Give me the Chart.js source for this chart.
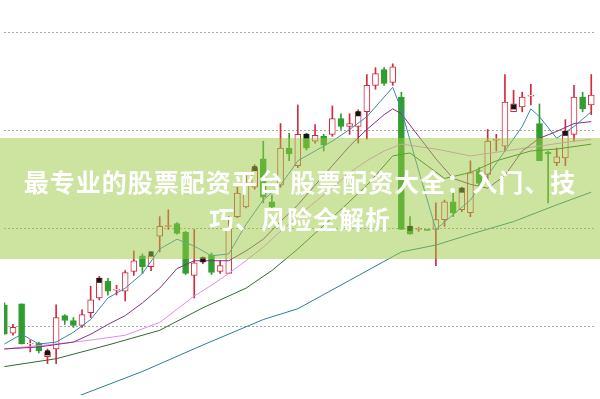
<!DOCTYPE html>
<html>
<head>
<meta charset="utf-8">
<script src="https://cdn.jsdelivr.net/npm/chart.js@4.4.1/dist/chart.umd.min.js"></script>
<style>
  html, body { margin: 0; padding: 0; background: #fff; }
  #wrap { position: relative; width: 600px; height: 399px; overflow: hidden; }
  #banner { position: absolute; left: 0; top: 138px; width: 600px; height: 121px; background: rgba(155, 202, 65, 0.5); }
  #title { position: absolute; left: 0; top: 163px; width: 600px; text-align: center; color: #fff;
    font: bold 25px/37px "Noto Sans CJK SC", sans-serif; letter-spacing: 1px; }
</style>
</head>
<body>
<div id="wrap">
  <canvas id="kChart" width="600" height="399"></canvas>
  <div id="banner"></div>
  <div id="title">最专业的股票配资平台 股票配资大全：入门、技<br>巧、风险全解析</div>
</div>
<script>
// daily candles, left to right
const opens = [10.22, 9.93, 10.23, 9.82, 9.83, 9.69, 9.77, 10.11, 10.06, 10.01, 10.14, 10.29, 10.46, 10.37, 10.36, 10.56, 10.72, 10.61,
  10.92, 11.02, 11.05, 10.96, 10.52, 10.66, 10.73, 10.56, 10.54, 11.12, 11.22, 11.42, 11.71, 11.27, 11.44, 11.82, 11.64, 11.96,
  11.89, 11.94, 11.96, 12.12, 12.04, 12.04, 12.19, 12.46, 12.62, 12.49, 12.34, 11.02, 10.99, 10.99, 10.99, 11.09, 11.27, 11.19,
  11.16, 11.59, 11.55, 11.90, 11.84, 12.19, 12.24, 12.35, 12.07, 11.78, 11.67, 11.72, 11.96, 12.34, 12.26];
const highs = [10.24, 10.02, 10.23, 9.86, 9.84, 9.77, 10.22, 10.12, 10.09, 10.17, 10.41, 10.51, 10.49, 10.42, 10.57, 10.77, 10.74, 10.76,
  11.12, 11.19, 11.06, 10.97, 10.99, 10.71, 10.75, 10.67, 11.12, 11.42, 11.54, 11.65, 11.89, 11.34, 12.07, 11.97, 12.26, 11.97,
  12.06, 11.96, 12.25, 12.17, 12.17, 12.21, 12.57, 12.64, 12.64, 12.68, 12.39, 11.12, 11.01, 10.99, 11.26, 11.29, 11.36, 11.42,
  11.69, 11.62, 12.01, 11.96, 12.57, 12.41, 12.39, 12.47, 12.27, 11.79, 11.82, 12.11, 12.46, 12.39, 12.57];
const lows = [9.92, 9.91, 9.82, 9.74, 9.73, 9.62, 9.62, 10.02, 9.99, 9.99, 10.09, 10.27, 10.32, 10.32, 10.26, 10.52, 10.54, 10.57,
  10.76, 10.99, 10.94, 10.53, 10.29, 10.64, 10.53, 10.54, 10.54, 11.11, 11.21, 11.40, 11.26, 11.19, 11.42, 11.69, 11.62, 11.80,
  11.87, 11.79, 11.94, 12.01, 11.96, 11.87, 11.91, 12.42, 12.46, 12.46, 10.99, 10.94, 10.97, 10.98, 10.62, 11.02, 11.12, 11.17,
  11.12, 11.43, 11.49, 11.79, 11.79, 12.19, 12.19, 12.26, 11.69, 11.26, 11.64, 11.64, 11.89, 12.19, 12.16];
const closes = [9.92, 9.99, 9.82, 9.83, 9.75, 9.74, 10.09, 10.06, 10.01, 10.12, 10.27, 10.49, 10.36, 10.38, 10.55, 10.67, 10.61, 10.72,
  11.02, 11.03, 10.95, 10.54, 10.65, 10.70, 10.55, 10.62, 10.99, 11.36, 11.46, 11.62, 11.32, 11.22, 11.82, 11.76, 11.96, 11.82,
  11.95, 11.85, 12.12, 12.04, 12.07, 12.19, 12.46, 12.58, 12.48, 12.65, 10.99, 10.94, 11.00, 10.98, 11.09, 11.27, 11.16, 11.41,
  11.57, 11.46, 11.89, 11.91, 12.29, 12.27, 12.34, 12.36, 11.69, 11.76, 11.73, 11.99, 12.34, 12.22, 12.36];

// weekly marker boxes [candle, price]
const marks = [[5, 9.73], [11, 10.47], [17, 10.74], [23, 10.68], [29, 11.61], [35, 11.94], [41, 12.17], [47, 11.00],
  [53, 11.39], [59, 12.24], [65, 11.97]];

// moving averages [candle, price]
const ma5 = [[0, 9.82], [2, 9.92], [4, 9.82], [6, 9.84], [8, 9.94], [10, 10.07], [12, 10.29], [14, 10.39], [16, 10.54], [18, 10.79],
  [20, 10.89], [22, 10.82], [24, 10.72], [26, 10.74], [28, 11.04], [30, 11.29], [32, 11.44], [34, 11.69], [36, 11.79], [38, 11.89],
  [40, 12.01], [42, 12.14], [44, 12.34], [45, 12.44], [46, 12.21], [48, 11.59], [50, 10.99], [52, 11.14], [54, 11.29], [56, 11.54],
  [58, 11.79], [60, 12.04], [61, 12.22], [62, 12.14], [64, 11.92], [66, 12.04], [68, 12.19]];
const ma10 = [[0, 9.77], [4, 9.79], [8, 9.84], [10, 9.92], [12, 10.02], [14, 10.11], [16, 10.24], [18, 10.39], [20, 10.59], [22, 10.67],
  [24, 10.67], [26, 10.67], [28, 10.77], [30, 10.89], [32, 11.07], [34, 11.24], [36, 11.44], [38, 11.64], [40, 11.84], [42, 12.01],
  [44, 12.16], [45, 12.22], [46, 12.17], [48, 11.94], [50, 11.71], [52, 11.51], [54, 11.45], [56, 11.41], [58, 11.54], [60, 11.79],
  [62, 11.92], [64, 11.99], [66, 12.07], [68, 12.09]];
const ma20 = [[0, 9.77], [6, 9.82], [10, 9.86], [14, 9.91], [18, 10.04], [22, 10.31], [24, 10.42], [26, 10.54], [28, 10.67], [30, 10.81],
  [32, 10.97], [34, 11.12], [36, 11.27], [38, 11.41], [40, 11.57], [42, 11.69], [44, 11.79], [46, 11.86], [50, 11.81], [54, 11.74],
  [58, 11.79], [62, 11.84], [66, 11.89], [68, 11.91]];
const ma30 = [[0, 9.59], [6, 9.67], [12, 9.81], [18, 9.96], [23, 10.19], [28, 10.39], [31, 10.57], [34, 10.79], [38, 11.11], [42, 11.44],
  [45, 11.74], [47, 11.77], [49, 11.64], [51, 11.51], [54, 11.57], [57, 11.69], [61, 11.79], [64, 11.81], [68, 11.86]];
const ma60 = [[8, 9.27], [16, 9.54], [23, 9.81], [30, 10.07], [34, 10.18], [40, 10.47], [46, 10.76], [50, 10.83], [54, 10.94],
  [59, 11.07], [64, 11.24], [68, 11.37]];

const yTicks = [10, 11, 12, 13];

const RED = "#d42a3c";
const GREEN = "#2f9e2f";

const isUp = opens.map((o, i) => closes[i] >= o);
const toPts = (arr) => arr.map(([x, y]) => ({ x, y }));

function maLine(data, color) {
  return {
    type: "line",
    data: toPts(data),
    borderColor: color,
    borderWidth: 1,
    pointRadius: 0,
    tension: 0,
    order: 1,
  };
}

const ctx = document.getElementById("kChart").getContext("2d");

new Chart(ctx, {
  data: {
    datasets: [
      {
        type: "scatter",
        data: toPts(marks),
        pointStyle: "rect",
        pointRadius: 3.5,
        backgroundColor: "#151515",
        borderColor: "#151515",
        borderWidth: 0,
        order: 0,
      },
      maLine(ma5, "#3c86b4"),
      maLine(ma10, "#862f86"),
      maLine(ma20, "#e88ae8"),
      maLine(ma30, "#2f6b2f"),
      maLine(ma60, "#2d7f8f"),
      {
        // candle bodies
        type: "bar",
        data: opens.map((o, i) => ({ x: i, y: [o, closes[i]] })),
        backgroundColor: isUp.map((u) => (u ? "#ffffff" : GREEN)),
        borderColor: isUp.map((u) => (u ? RED : GREEN)),
        borderWidth: 1,
        borderSkipped: false,
        barThickness: 6,
        grouped: false,
        order: 2,
      },
      {
        // wicks
        type: "bar",
        data: lows.map((l, i) => ({ x: i, y: [l, highs[i]] })),
        backgroundColor: isUp.map((u) => (u ? RED : GREEN)),
        borderWidth: 0,
        barThickness: 1,
        grouped: false,
        order: 3,
      },
    ],
  },
  options: {
    responsive: false,
    animation: false,
    events: [],
    layout: { padding: 0 },
    plugins: { legend: { display: false }, tooltip: { enabled: false } },
    scales: {
      x: { type: "linear", min: -0.04, max: 68.55, offset: false, display: false },
      y: {
        min: 9.3,
        max: 13.29,
        afterBuildTicks: (scale) => {
          scale.ticks = yTicks.map((v) => ({ value: v }));
        },
        ticks: { display: false },
        grid: { color: "#a8a8a8", drawTicks: false },
        border: { display: false, dash: [2, 2] },
      },
    },
  },
});
</script>
</body>
</html>
